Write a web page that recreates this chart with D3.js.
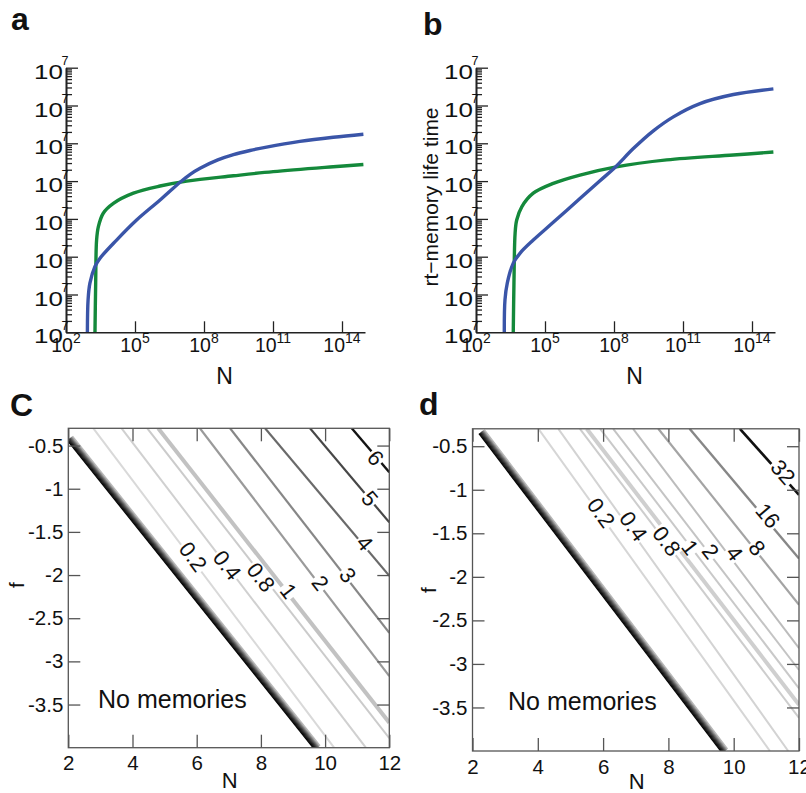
<!DOCTYPE html>
<html><head><meta charset="utf-8">
<script src="https://cdn.jsdelivr.net/npm/d3@7"></script>
<style>
body{margin:0;background:#fff}
svg{display:block}
text{font-family:"Liberation Sans",Arial,Helvetica,sans-serif;fill:#111}
</style>
</head><body>
<svg id="fig" width="806" height="793"></svg>
<script>
// ================= DATA =================
// Panels a, b : log10(N) and log10(lifetime) counted in decades above the axis origin
const xTickExps = [2, 5, 8, 11, 14];
const yTickDecades = [0, 1, 2, 3, 4, 5, 6, 7];
const yTickLabelExp = "7";   // every y label in the source reads 10^7

const aBlueLogN = [2.93, 2.96, 3.04, 3.26, 3.48, 4.20, 5.07, 6.09, 6.96, 7.40, 7.83, 8.60, 9.28, 10.00, 10.72, 12.17, 13.62, 14.93];
const aBlueDec  = [0.00, 0.86, 1.30, 1.74, 1.96, 2.44, 2.97, 3.50, 3.97, 4.18, 4.34, 4.56, 4.70, 4.81, 4.90, 5.05, 5.16, 5.24];
const aGreenLogN = [3.26, 3.29, 3.33, 3.41, 3.62, 4.06, 4.93, 6.09, 7.25, 9.28, 11.01, 13.62, 14.93];
const aGreenDec  = [0.00, 1.30, 2.44, 2.80, 3.15, 3.41, 3.68, 3.87, 4.00, 4.14, 4.25, 4.38, 4.44];

const bBlueLogN = [3.23, 3.26, 3.36, 3.62, 3.91, 4.49, 5.36, 6.52, 7.39, 8.04, 8.84, 9.71, 10.58, 11.74, 13.19, 14.93];
const bBlueDec  = [0.00, 0.86, 1.30, 1.83, 2.09, 2.44, 2.91, 3.54, 4.01, 4.36, 4.86, 5.33, 5.70, 6.05, 6.29, 6.44];
const bGreenLogN = [3.62, 3.65, 3.70, 3.77, 3.99, 4.49, 5.36, 6.52, 8.04, 10.29, 13.19, 14.93];
const bGreenDec  = [0.00, 1.30, 2.62, 2.97, 3.32, 3.68, 3.94, 4.16, 4.37, 4.56, 4.69, 4.77];

// Panels c, d : contour lines in the (N, f) plane
const nTicks = [2, 4, 6, 8, 10, 12];
const fTicks = [-0.5, -1, -1.5, -2, -2.5, -3, -3.5];

const cBoundary = [[2.05, -0.415], [9.76, -4.0]];
const cLevels = ["0.2", "0.4", "0.8", "1", "2", "3", "4", "5", "6"];
const cStartN = [2.78, 3.66, 4.46, 4.80, 6.10, 7.04, 8.13, 9.53, 10.83];
const cStartF = [-0.3, -0.3, -0.3, -0.3, -0.3, -0.3, -0.3, -0.3, -0.3];
const cEndN   = [10.28, 11.27, 12, 12, 12, 12, 12, 12, 12];
const cEndF   = [-4, -4, -3.89, -3.71, -3.17, -2.67, -2.01, -1.39, -0.81];
const cLabelN = [5.95, 6.97, 7.95, 8.91, 9.89, 10.78, 11.30, 11.40, 11.55];
const cLabelF = [-1.77, -1.88, -2.04, -2.17, -2.08, -1.98, -1.61, -1.11, -0.65];

const dBoundary = [[2.28, -0.333], [9.73, -4.0]];
const dLevels = ["0.2", "0.4", "0.8", "", "1", "2", "4", "8", "16", "32"];
const dStartN = [4.02, 4.63, 5.29, 5.50, 5.91, 6.31, 6.92, 7.69, 8.65, 10.19];
const dStartF = [-0.3, -0.3, -0.3, -0.3, -0.3, -0.3, -0.3, -0.3, -0.3, -0.3];
const dEndN   = [11.11, 11.67, 12, 12, 12, 12, 12, 12, 12, 12];
const dEndF   = [-4, -4, -3.62, -3.47, -3.28, -3.07, -2.82, -2.32, -1.79, -1.06];
const dLabelN = [5.99, 7.04, 7.98, null, 8.64, 9.35, 10.17, 10.78, 11.14, 11.59];
const dLabelF = [-1.25, -1.39, -1.58, null, -1.67, -1.69, -1.69, -1.65, -1.27, -0.77];

// ================= STYLE =================
const BLUE = "#3a55a8", GREEN = "#14893b";
const cColors = ["#d9d9d9", "#d0d0d0", "#cbcbcb", "#c2c2c2", "#9a9a9a", "#878787", "#6a6a6a", "#474747", "#141414"];
const cWidths = [2, 2, 2, 4, 2.2, 2.2, 2.2, 2.2, 2.4];
const dColors = ["#d6d6d6", "#d3d3d3", "#cdcdcd", "#cfcfcf", "#c9c9c9", "#c4c4c4", "#bcbcbc", "#a4a4a4", "#878787", "#111111"];
const dWidths = [2, 2, 2, 4, 2, 2, 2, 2.2, 2.4, 2.6];

const svg = d3.select("#fig");
const defs = svg.append("defs");

// ================= PANELS a, b =================
function logPanel(opt) {
  const x = d3.scaleLog().domain([1e2, 1e15]).range([opt.x0, opt.x1]);
  const y = d3.scaleLog().domain([1, 1e7]).range([opt.yb, opt.yt]);
  const g = svg.append("g");

  const clipId = "clip" + opt.id;
  defs.append("clipPath").attr("id", clipId).append("rect")
    .attr("x", opt.x0).attr("y", opt.yt - 5).attr("width", opt.x1 - opt.x0 + 5).attr("height", opt.yb - opt.yt + 5);

  const line = d3.line().x(d => x(Math.pow(10, d[0]))).y(d => y(Math.pow(10, d[1]))).curve(d3.curveCatmullRom.alpha(0.5));
  const cg = g.append("g").attr("clip-path", `url(#${clipId})`);
  cg.append("path").datum(d3.zip(opt.gN, opt.gD)).attr("d", line)
    .attr("fill", "none").attr("stroke", GREEN).attr("stroke-width", 3.4);
  cg.append("path").datum(d3.zip(opt.bN, opt.bD)).attr("d", line)
    .attr("fill", "none").attr("stroke", BLUE).attr("stroke-width", 3.4);

  // y axis with log minor ticks (inward)
  const minor = [];
  for (let k = 0; k < 7; k++) for (let m = 2; m <= 9; m++) minor.push(m * Math.pow(10, k));
  const yMinor = g.append("g").attr("transform", `translate(${opt.x0},0)`)
    .call(d3.axisLeft(y).tickValues(minor).tickSize(-6).tickSizeOuter(0).tickFormat(""));
  const yMajor = g.append("g").attr("transform", `translate(${opt.x0},0)`)
    .call(d3.axisLeft(y).tickValues(yTickDecades.map(d => Math.pow(10, d))).tickSize(-12).tickSizeOuter(0).tickFormat(""));
  const xAx = g.append("g").attr("transform", `translate(0,${opt.yb})`)
    .call(d3.axisBottom(x).tickValues(xTickExps.map(e => Math.pow(10, e))).tickSize(-11).tickSizeOuter(0).tickFormat(""));
  [yMinor, yMajor, xAx].forEach(a => {
    a.selectAll("path").attr("stroke", "#222").attr("stroke-width", 1.6);
    a.selectAll("line").attr("stroke", "#222").attr("stroke-width", 1.3);
  });

  // y tick labels: "10" (wide) + superscript
  yTickDecades.forEach(dv => {
    const ty = y(Math.pow(10, dv));
    g.append("text").attr("transform", `translate(${opt.x0 - 3},${ty + 11}) scale(1.3,1)`)
      .attr("text-anchor", "end").attr("font-size", 20).text("10");
    g.append("text").attr("x", opt.x0 - 4.5).attr("y", ty - 2.5)
      .attr("font-size", 12.5).text(yTickLabelExp);
  });
  // x tick labels
  xTickExps.forEach(e => {
    const tx = x(Math.pow(10, e));
    const t = g.append("text").attr("x", tx).attr("y", opt.yb + 19.5).attr("text-anchor", "middle").attr("font-size", 19.5);
    t.append("tspan").text("10");
    t.append("tspan").attr("dy", -8.5).attr("font-size", 14).text(String(e));
  });
  // N label
  g.append("text").attr("x", (opt.x0 + opt.x1) / 2 + 9).attr("y", 384)
    .attr("text-anchor", "middle").attr("font-size", 23).text("N");
  if (opt.ylabel) {
    g.append("text").attr("transform", `translate(${opt.x0 - 38},${(opt.yt + opt.yb) / 2 - 3}) rotate(-90)`)
      .attr("text-anchor", "middle").attr("font-size", 21).text(opt.ylabel);
  }
  svg.append("text").attr("x", opt.lx).attr("y", opt.ly).attr("font-size", 32).attr("font-weight", "bold").text(opt.letter);
}

logPanel({id: "a", x0: 66, x1: 365, yt: 67.7, yb: 332.3, bN: aBlueLogN, bD: aBlueDec, gN: aGreenLogN, gD: aGreenDec,
  letter: "a", lx: 11, ly: 30});
logPanel({id: "b", x0: 476, x1: 775, yt: 67.7, yb: 332.3, bN: bBlueLogN, bD: bBlueDec, gN: bGreenLogN, gD: bGreenDec,
  letter: "b", lx: 423, ly: 35, ylabel: "rt\u2212memory life time"});

// ================= PANELS c, d =================
function contourPanel(opt) {
  const x = d3.scaleLinear().domain([2, 12]).range([opt.x0, opt.x1]);
  const y = d3.scaleLinear().domain([-4, -0.3]).range([opt.yb, opt.yt]);
  const g = svg.append("g");
  const clipId = "clip" + opt.id;
  defs.append("clipPath").attr("id", clipId).append("rect")
    .attr("x", opt.x0).attr("y", opt.yt).attr("width", opt.x1 - opt.x0).attr("height", opt.yb - opt.yt);
  const pg = g.append("g").attr("clip-path", `url(#${clipId})`);

  // contour lines
  opt.levels.forEach((lv, i) => {
    pg.append("line")
      .attr("x1", x(opt.sN[i])).attr("y1", y(opt.sF[i]))
      .attr("x2", x(opt.eN[i])).attr("y2", y(opt.eF[i]))
      .attr("stroke", opt.colors[i]).attr("stroke-width", opt.widths[i]);
  });

  // thick shaded boundary line (dark lower-left edge, light upper-right edge)
  const p1 = [x(opt.boundary[0][0]), y(opt.boundary[0][1])];
  const p2 = [x(opt.boundary[1][0]), y(opt.boundary[1][1])];
  const dx = p2[0] - p1[0], dy = p2[1] - p1[1], L = Math.hypot(dx, dy);
  const nx = dy / L, ny = -dx / L; // normal toward upper-right
  const nSub = 10, wTot = 7.5;
  const col = d3.interpolateRgb("#050505", "#b8b8b8");
  for (let k = 0; k < nSub; k++) {
    const off = (k - (nSub - 1) / 2) * (wTot / nSub);
    const t = Math.pow(k / (nSub - 1), 1.6);
    pg.append("line")
      .attr("x1", p1[0] + nx * off).attr("y1", p1[1] + ny * off)
      .attr("x2", p2[0] + nx * off).attr("y2", p2[1] + ny * off)
      .attr("stroke", col(t)).attr("stroke-width", wTot / nSub + 0.5);
  }

  // contour labels (near their line, rotated along it, white knock-out)
  opt.levels.forEach((lv, i) => {
    if (!lv || opt.lN[i] == null) return;
    const a = [x(opt.sN[i]), y(opt.sF[i])], b = [x(opt.eN[i]), y(opt.eF[i])];
    const ux = b[0] - a[0], uy = b[1] - a[1], ul = Math.hypot(ux, uy);
    const px = x(opt.lN[i]), py = y(opt.lF[i]);
    const tt = ((px - a[0]) * ux + (py - a[1]) * uy) / (ul * ul);
    const cx = (a[0] + ux * tt + px) / 2, cy = (a[1] + uy * tt + py) / 2;
    const ang = Math.atan2(uy, ux) * 180 / Math.PI;
    const lg = g.append("g").attr("transform", `translate(${cx},${cy}) rotate(${ang})`);
    const txt = lg.append("text").attr("text-anchor", "middle").attr("dy", "0.35em")
      .attr("font-size", 22).text(lv);
    const bb = txt.node().getBBox();
    lg.insert("rect", "text").attr("x", bb.x - 1.5).attr("y", -8).attr("width", bb.width + 3).attr("height", 16)
      .attr("fill", "#fff");
  });

  // frame & inward ticks on all sides
  const axes = [
    g.append("g").attr("transform", `translate(0,${opt.yb})`)
      .call(d3.axisBottom(x).tickValues(nTicks).tickSize(-13).tickSizeOuter(0).tickPadding(8).tickFormat(d => String(d))),
    g.append("g").attr("transform", `translate(0,${opt.yt})`)
      .call(d3.axisTop(x).tickValues(nTicks).tickSize(-13).tickSizeOuter(0).tickFormat("")),
    g.append("g").attr("transform", `translate(${opt.x0},0)`)
      .call(d3.axisLeft(y).tickValues(fTicks).tickSize(-12).tickSizeOuter(0).tickPadding(5).tickFormat(d => String(d))),
    g.append("g").attr("transform", `translate(${opt.x1},0)`)
      .call(d3.axisRight(y).tickValues(fTicks).tickSize(-12).tickSizeOuter(0).tickFormat(""))
  ];
  axes.forEach(a => {
    a.selectAll("path").remove();
    a.selectAll("line").attr("stroke", "#555").attr("stroke-width", 1.3);
    a.selectAll("text").attr("font-size", 20.5).attr("fill", "#111")
      .attr("font-family", "Liberation Sans, Arial, sans-serif");
  });
  g.append("rect").attr("x", opt.x0).attr("y", opt.yt).attr("width", opt.x1 - opt.x0).attr("height", opt.yb - opt.yt)
    .attr("fill", "none").attr("stroke", "#555").attr("stroke-width", 1.3);

  g.append("text").attr("x", opt.nmX).attr("y", opt.nmY).attr("font-size", 25).text("No memories");
  g.append("text").attr("x", (opt.x0 + opt.x1) / 2 + 1).attr("y", opt.nY)
    .attr("text-anchor", "middle").attr("font-size", 22).text("N");
  g.append("text").attr("transform", `translate(${opt.fX},${opt.fY}) rotate(-90)`)
    .attr("text-anchor", "middle").attr("font-size", 21).text("f");
  svg.append("text").attr("x", opt.lx).attr("y", opt.ly).attr("font-size", 32).attr("font-weight", "bold").text(opt.letter);
}

contourPanel({id: "c", x0: 68.3, x1: 389.3, yt: 428.3, yb: 747.7, boundary: cBoundary,
  levels: cLevels, sN: cStartN, sF: cStartF, eN: cEndN, eF: cEndF, lN: cLabelN, lF: cLabelF,
  colors: cColors, widths: cWidths, nmX: 98, nmY: 708, nY: 788, fX: 24, fY: 585, letter: "C", lx: 10, ly: 416});
contourPanel({id: "d", x0: 472.5, x1: 799, yt: 428.8, yb: 751, boundary: dBoundary,
  levels: dLevels, sN: dStartN, sF: dStartF, eN: dEndN, eF: dEndF, lN: dLabelN, lF: dLabelF,
  colors: dColors, widths: dWidths, nmX: 508, nmY: 710, nY: 788.5, fX: 436, fY: 590, letter: "d", lx: 419, ly: 415});
</script>
</body></html>
